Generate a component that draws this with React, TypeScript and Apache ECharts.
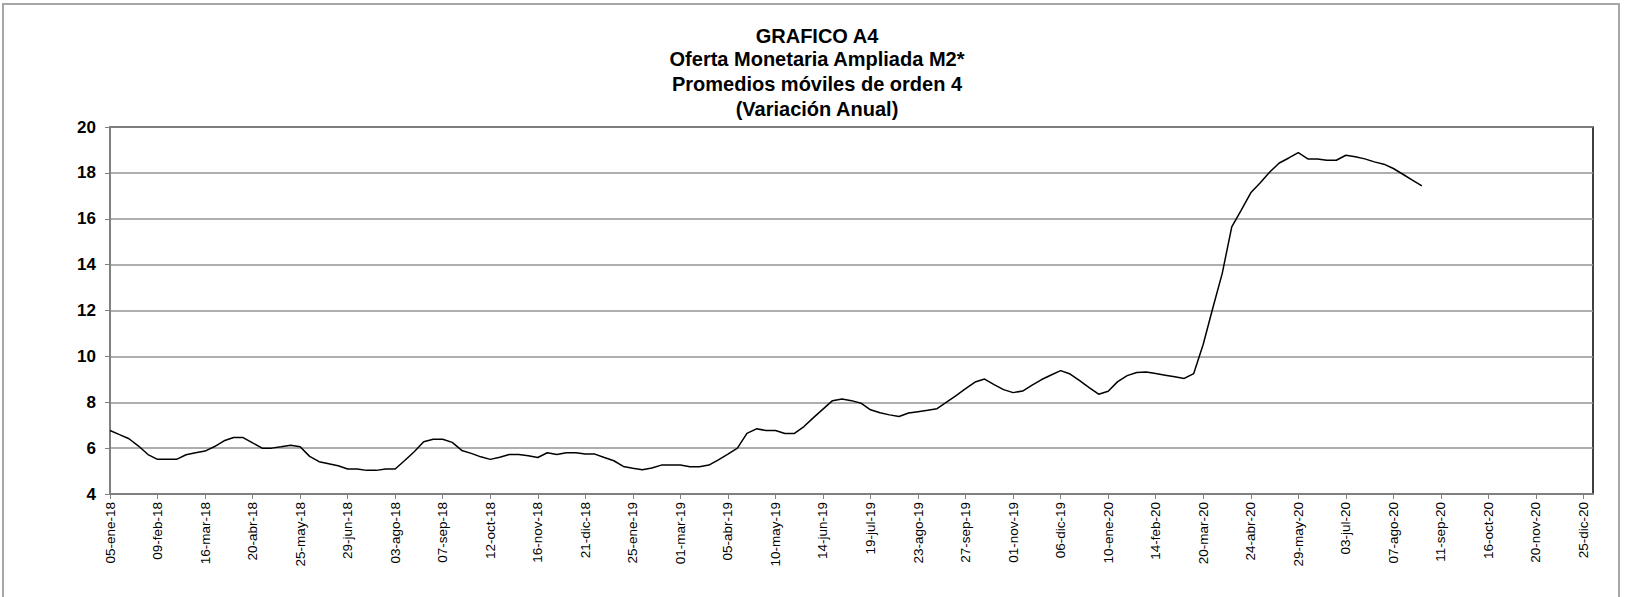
import React, { useEffect, useRef } from "react";
import * as echarts from "echarts";

const titleLines = [
  "GRAFICO A4",
  "Oferta Monetaria Ampliada M2*",
  "Promedios móviles de orden 4",
  "(Variación Anual)",
];
const titleLineY = [36, 59, 84, 109];

const monthNames = ["ene", "feb", "mar", "abr", "may", "jun", "jul", "ago", "sep", "oct", "nov", "dic"];
const firstWeek = Date.UTC(2018, 0, 5);
const weekCount = 157; // weekly dates 05-ene-18 .. 01-ene-21

const pad2 = (n: number) => (n < 10 ? "0" + n : "" + n);
const categories: string[] = [];
for (let i = 0; i < weekCount; i++) {
  const d = new Date(firstWeek + i * 7 * 86400000);
  categories.push(
    pad2(d.getUTCDate()) + "-" + monthNames[d.getUTCMonth()] + "-" + pad2(d.getUTCFullYear() % 100)
  );
}

const m2Values = [
  6.77, 6.59, 6.41, 6.09, 5.72, 5.51, 5.51, 5.51, 5.71, 5.8,
  5.87, 6.07, 6.32, 6.46, 6.46, 6.23, 6.0, 6.0, 6.06, 6.13,
  6.06, 5.64, 5.41, 5.32, 5.23, 5.09, 5.09, 5.03, 5.03, 5.09,
  5.09, 5.46, 5.84, 6.28, 6.39, 6.39, 6.25, 5.9, 5.77, 5.62,
  5.51, 5.6, 5.72, 5.72, 5.67, 5.59, 5.8, 5.72, 5.8, 5.8,
  5.74, 5.74, 5.59, 5.45, 5.2, 5.12, 5.06, 5.13, 5.26, 5.26,
  5.26, 5.19, 5.19, 5.26, 5.49, 5.74, 6.0, 6.64, 6.84, 6.77,
  6.77, 6.64, 6.64, 6.94, 7.33, 7.7, 8.07, 8.14, 8.07, 7.96,
  7.67, 7.54, 7.45, 7.38, 7.53, 7.59, 7.65, 7.72, 8.01, 8.29,
  8.59, 8.88, 9.01, 8.77, 8.55, 8.42, 8.49, 8.75, 8.99, 9.19,
  9.38, 9.23, 8.94, 8.64, 8.35, 8.48, 8.9, 9.16, 9.3, 9.32,
  9.25, 9.18, 9.11, 9.04, 9.25, 10.53, 12.1, 13.62, 15.65, 16.38,
  17.13, 17.57, 18.04, 18.43, 18.65, 18.88, 18.61, 18.61, 18.55, 18.55,
  18.77, 18.7, 18.61, 18.48, 18.38, 18.19, 17.94, 17.68, 17.43,
];

const FONT = "'Liberation Sans', Arial, sans-serif";

export default function App() {
  const ref = useRef<HTMLDivElement>(null);
  useEffect(() => {
    if (!ref.current) return;
    const chart = echarts.init(ref.current, undefined, { renderer: "svg" });
    chart.setOption({
      animation: false,
      backgroundColor: "#ffffff",
      graphic: [
        {
          type: "rect",
          shape: { x: 3, y: 4, width: 1616, height: 640 },
          style: { fill: "none", stroke: "#a6a6a6", lineWidth: 2 },
          silent: true,
          z: -1,
        },
        ...titleLines.map((t, k) => ({
          type: "text",
          x: 817,
          y: titleLineY[k],
          style: {
            text: t,
            fontFamily: FONT,
            fontWeight: "bold",
            fontSize: 20,
            fill: "#000",
            textAlign: "center",
            textVerticalAlign: "middle",
          },
        })),
      ],
      grid: {
        left: 110,
        top: 127,
        right: 32,
        bottom: 103,
        show: true,
        borderColor: "#000",
        borderWidth: 1.5,
        containLabel: false,
      },
      xAxis: {
        type: "category",
        data: categories,
        boundaryGap: false,
        axisLine: { lineStyle: { color: "#808080", width: 2 } },
        axisTick: { interval: 4, length: 5, lineStyle: { color: "#808080", width: 1 } },
        axisLabel: {
          interval: 4,
          rotate: 90,
          fontFamily: FONT,
          fontSize: 13.5,
          color: "#000",
          margin: 8,
        },
        splitLine: { show: false },
      },
      yAxis: {
        type: "value",
        min: 4,
        max: 20,
        interval: 2,
        axisLine: { show: true, lineStyle: { color: "#808080", width: 2 } },
        axisTick: { show: true, length: 5, lineStyle: { color: "#808080", width: 1 } },
        axisLabel: {
          fontFamily: FONT,
          fontWeight: "bold",
          fontSize: 17,
          color: "#000",
          margin: 14,
        },
        splitLine: { show: true, lineStyle: { color: "#939393", width: 1.5 } },
      },
      series: [
        {
          type: "line",
          data: m2Values,
          showSymbol: false,
          symbol: "none",
          lineStyle: { color: "#000", width: 1.5 },
        },
      ],
    });
    return () => chart.dispose();
  }, []);
  return (
    <div
      ref={ref}
      style={{ position: "fixed", left: 0, top: 0, width: 1625, height: 597 }}
    />
  );
}
